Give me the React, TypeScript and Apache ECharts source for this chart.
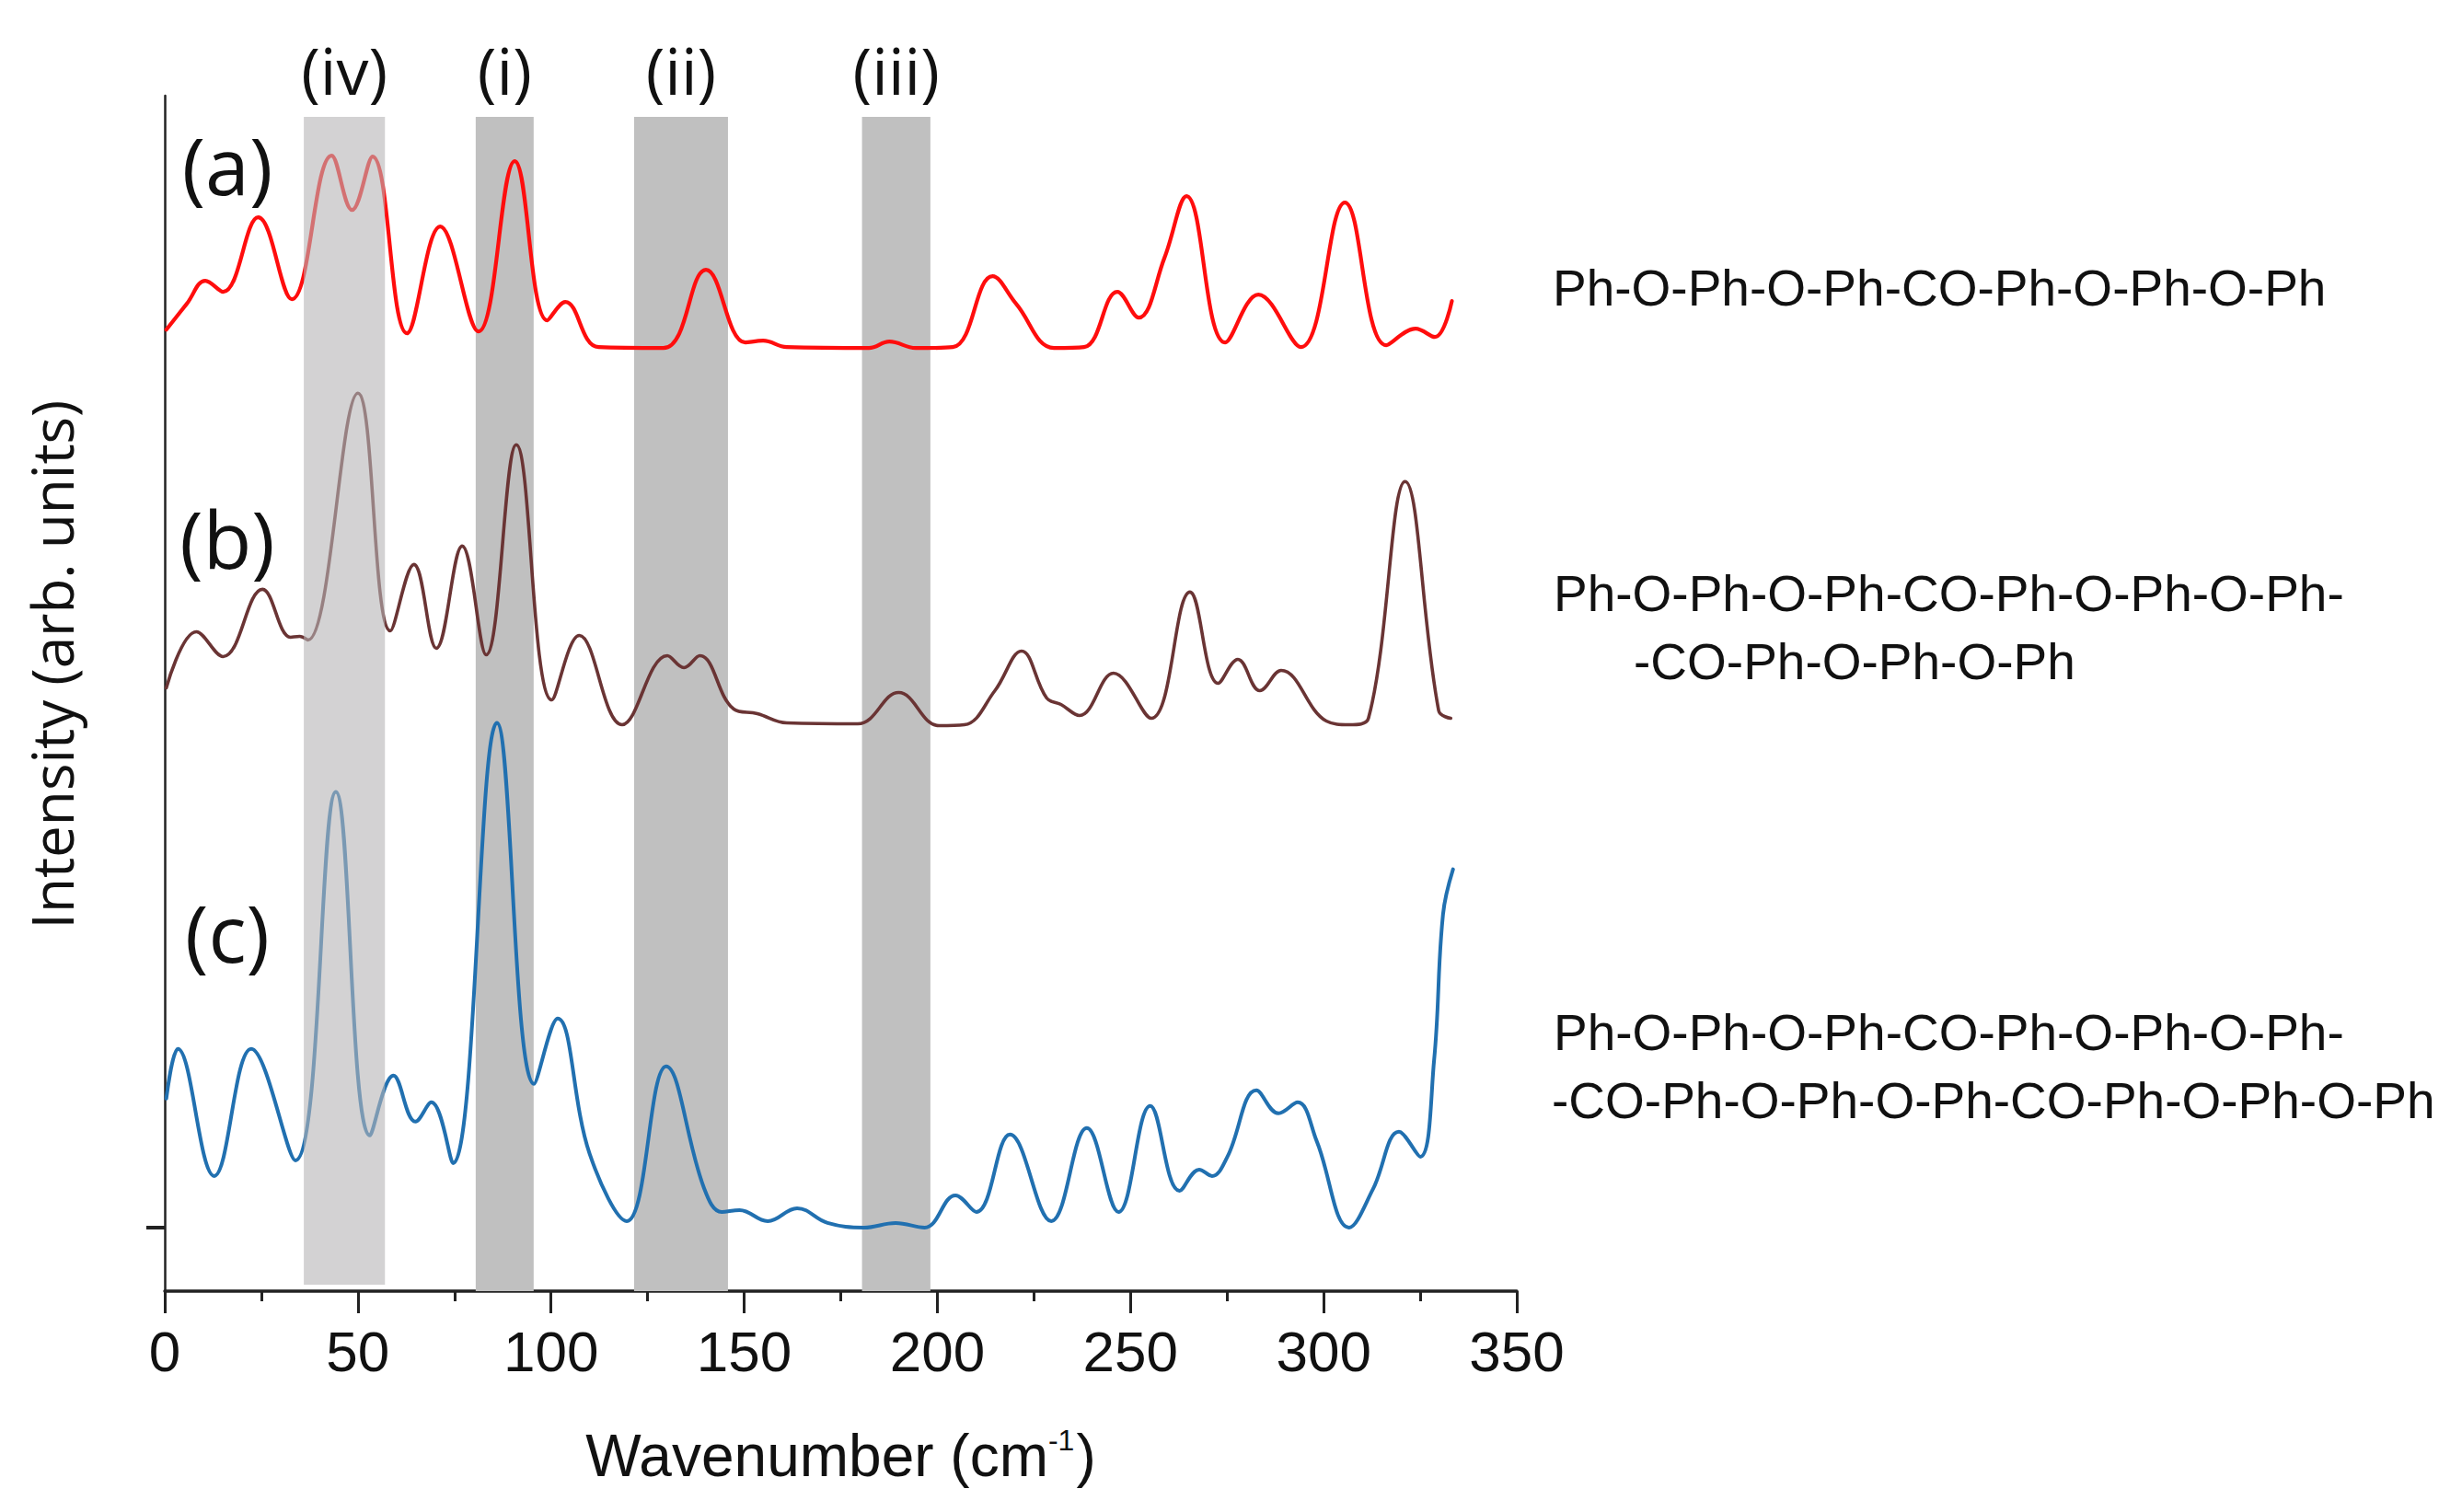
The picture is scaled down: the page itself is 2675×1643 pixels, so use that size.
import React, { useEffect, useRef } from "react";
import * as echarts from "echarts";

// Wavenumber (cm-1) sample positions and plotted (offset) intensities
const waveA = [0.4, 5.7, 10.5, 15.1, 24.2, 32.9, 43.2, 48.5, 53.8, 62.7, 71.3, 81.2, 90.6, 99.0, 103.7, 112.3, 129.1, 140.1, 150.3, 154.9, 161, 182.3, 187.6, 194.4, 204, 214.3, 220.4, 230.2, 238, 246.6, 252.1, 258.8, 264.5, 274.5, 283.1, 294.1, 305.5, 316.2, 323.8, 328.8, 333.2];
const intensityA = [9.75, 10.03, 10.28, 10.16, 10.97, 10.08, 11.64, 11.05, 11.63, 9.71, 10.87, 9.73, 11.58, 9.85, 10.05, 9.56, 9.55, 10.40, 9.61, 9.63, 9.56, 9.55, 9.62, 9.55, 9.56, 10.33, 10.03, 9.55, 9.56, 10.16, 9.88, 10.53, 11.20, 9.61, 10.13, 9.56, 11.13, 9.58, 9.76, 9.67, 10.06];

const waveB = [0.4, 8.2, 15.1, 25.3, 32.6, 34.9, 37.1, 50.0, 58.4, 64.5, 70.3, 77.0, 83.2, 91.0, 100.2, 107.3, 118.4, 130.1, 134.4, 138.5, 147.3, 153.4, 161, 179.4, 190, 200.4, 207, 214.9, 221.8, 228.3, 232, 236.8, 245.6, 255.4, 265.4, 272.7, 277.8, 283.5, 289, 300.7, 306.6, 311.6, 321.1, 329.8, 332.9];
const intensityB = [5.86, 6.47, 6.20, 6.93, 6.41, 6.42, 6.38, 9.06, 6.48, 7.20, 6.29, 7.40, 6.22, 8.50, 5.73, 6.43, 5.46, 6.21, 6.08, 6.21, 5.63, 5.58, 5.48, 5.47, 5.81, 5.45, 5.46, 5.83, 6.26, 5.75, 5.68, 5.56, 6.02, 5.53, 6.90, 5.91, 6.17, 5.83, 6.05, 5.50, 5.46, 5.53, 8.10, 5.61, 5.53];

const waveC = [0.4, 3.4, 12.8, 22.4, 33.8, 44.3, 53.1, 59.2, 64.9, 69.0, 74.6, 86.0, 95.6, 101.7, 110, 119.6, 129.8, 139.6, 144.2, 148.8, 156.1, 163.7, 171.6, 181, 189.2, 196.7, 204.7, 210.1, 218.8, 229.5, 238.7, 246.9, 255.1, 262.7, 267.8, 271.1, 275.1, 282.6, 288.3, 293.3, 298.2, 306.6, 312.8, 319.5, 325, 328.6, 330.9, 333.5];
const intensityC = [1.40, 1.94, 0.56, 1.94, 0.73, 4.73, 1.00, 1.65, 1.15, 1.36, 0.70, 5.48, 1.56, 2.27, 0.80, 0.07, 1.75, 0.43, 0.17, 0.19, 0.07, 0.21, 0.05, 0.0, 0.05, 0.0, 0.35, 0.17, 1.01, 0.07, 1.08, 0.17, 1.32, 0.40, 0.63, 0.56, 0.77, 1.49, 1.24, 1.36, 0.94, 0.0, 0.42, 1.04, 0.77, 1.82, 3.40, 3.89];

// Highlighted wavenumber bands
const bandLabels = ["(iv)", "(i)", "(ii)", "(iii)"];
const bandStart = [36, 80.5, 121.5, 180.5];
const bandEnd = [57, 95.5, 145.8, 198.2];
const bandTop = 12.06;

// Axis ranges
const xTicks = [0, 50, 100, 150, 200, 250, 300, 350];
const yMin = -0.69;
const yMax = 12.29;

// Text annotations
const panelLabels = ["(a)", "(b)", "(c)"];
const compoundA = ["Ph-O-Ph-O-Ph-CO-Ph-O-Ph-O-Ph"];
const compoundB = ["Ph-O-Ph-O-Ph-CO-Ph-O-Ph-O-Ph-", "-CO-Ph-O-Ph-O-Ph"];
const compoundC = ["Ph-O-Ph-O-Ph-CO-Ph-O-Ph-O-Ph-", "-CO-Ph-O-Ph-O-Ph-CO-Ph-O-Ph-O-Ph"];

const zip = (xs: number[], ys: number[]) => xs.map((x, i) => [x, ys[i]]);

export default function App() {
  const ref = useRef<HTMLDivElement>(null);

  useEffect(() => {
    if (!ref.current) return;
    const chart = echarts.init(ref.current, null, { renderer: "svg" });

    const bandArea = (idxs: number[], bottom: number) =>
      idxs.map((i) => [
        {
          name: bandLabels[i],
          xAxis: bandStart[i],
          yAxis: bandTop,
        },
        { xAxis: bandEnd[i], yAxis: bottom },
      ]);

    const bandLabelStyle = {
      show: true,
      position: "top",
      distance: 16,
      fontFamily: "Open Sans",
      fontSize: 70,
      color: "#111",
    };

    const rightFont = "Liberation Sans, Arial, sans-serif";
    const rightText = (text: string, x: number, y: number) => ({
      type: "text",
      x,
      y,
      style: {
        text,
        fontFamily: rightFont,
        fontSize: 55,
        fill: "#111",
        textAlign: "left",
        textVerticalAlign: "middle",
      },
    });
    const panelText = (text: string, x: number, y: number) => ({
      type: "text",
      x,
      y,
      style: {
        text,
        fontFamily: "Open Sans",
        fontSize: 86,
        fill: "#111",
        textAlign: "center",
        textVerticalAlign: "middle",
      },
    });

    const lineSeries = (name: string, xs: number[], ys: number[], color: string, width: number) => ({
      name,
      type: "line",
      data: zip(xs, ys),
      showSymbol: false,
      smooth: 0.4,
      lineStyle: { color, width, cap: "round", join: "round" },
      z: 3,
    });

    chart.setOption({
      animation: false,
      backgroundColor: "#ffffff",
      grid: { left: 179, right: 1027, top: 104, bottom: 240, containLabel: false },
      xAxis: {
        type: "value",
        min: xTicks[0],
        max: xTicks[xTicks.length - 1],
        interval: 50,
        splitLine: { show: false },
        axisLine: { show: true, onZero: false, lineStyle: { color: "#222", width: 3.5 } },
        axisTick: { show: true, length: 24, lineStyle: { color: "#222", width: 3 } },
        minorTick: { show: true, splitNumber: 2, length: 11, lineStyle: { color: "#222", width: 3 } },
        axisLabel: {
          fontFamily: "Liberation Sans Narrow, Liberation Sans, Arial, sans-serif",
          fontSize: 62,
          color: "#111",
          margin: 34,
        },
        name: "{t|Wavenumber (cm}{s|-1}{t|)}",
        nameLocation: "middle",
        nameGap: 146,
        nameTextStyle: {
          rich: {
            t: { fontFamily: "Liberation Sans Narrow, Liberation Sans, Arial, sans-serif", fontSize: 64, color: "#111" },
            s: {
              fontFamily: "Liberation Sans, Arial, sans-serif",
              fontSize: 32,
              color: "#111",
              padding: [0, 2, 34, 0],
            },
          },
        },
      },
      yAxis: {
        type: "value",
        min: yMin,
        max: yMax,
        splitLine: { show: false },
        axisLine: { show: true, onZero: false, lineStyle: { color: "#222", width: 2.5 } },
        axisTick: { show: true, customValues: [0], length: 20, lineStyle: { color: "#222", width: 4 } },
        axisLabel: { show: false },
      },
      graphic: [
        {
          type: "text",
          x: 56,
          y: 722,
          rotation: Math.PI / 2,
          style: {
            text: "Intensity (arb. units)",
            fontFamily: "Open Sans",
            fontSize: 62,
            fill: "#111",
            textAlign: "center",
            textVerticalAlign: "middle",
          },
        },
        panelText(panelLabels[0], 247, 178),
        panelText(panelLabels[1], 247, 584),
        panelText(panelLabels[2], 247, 1012),
        rightText(compoundA[0], 1687, 313),
        rightText(compoundB[0], 1688, 645),
        rightText(compoundB[1], 1775, 719),
        rightText(compoundC[0], 1688, 1122),
        rightText(compoundC[1], 1686, 1196),
      ],
      series: [
        {
          name: "bands-under",
          type: "line",
          data: [],
          silent: true,
          markArea: {
            silent: true,
            z: 1,
            itemStyle: { color: "#c0c0c0" },
            label: bandLabelStyle,
            data: bandArea([1, 2, 3], yMin),
          },
        },
        lineSeries("(a)", waveA, intensityA, "#ff0d0d", 4.2),
        lineSeries("(b)", waveB, intensityB, "#6a3434", 3.6),
        lineSeries("(c)", waveC, intensityC, "#2170b0", 4),
        {
          name: "bands-over",
          type: "line",
          data: [],
          silent: true,
          markArea: {
            silent: true,
            z: 10,
            itemStyle: { color: "rgba(182,180,182,0.6)" },
            label: bandLabelStyle,
            data: bandArea([0], -0.62),
          },
        },
      ],
    });

    return () => chart.dispose();
  }, []);

  return (
    <div
      ref={ref}
      style={{ position: "fixed", left: 0, top: 0, width: 2675, height: 1643, background: "#fff" }}
    />
  );
}
